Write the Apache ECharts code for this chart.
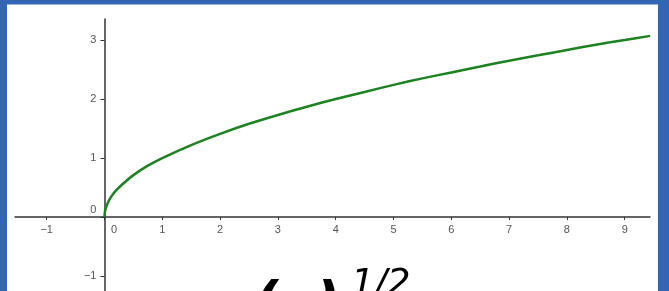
<!DOCTYPE html>
<html>
<head>
<meta charset="utf-8">
<script src="https://cdn.jsdelivr.net/npm/echarts@6/dist/echarts.min.js"></script>
<style>
  html, body { margin: 0; padding: 0; }
  body { width: 669px; height: 291px; background: #3366b2; position: relative; overflow: hidden; }
  #chart { position: absolute; left: 7px; top: 4px; width: 651px; height: 287px; background: #fff; border-top: 1px solid #9db4dc; box-sizing: border-box; }
</style>
</head>
<body>
<div id="chart"></div>
<script>
// tick labels on both axes
var xTicks = [-1, 0, 1, 2, 3, 4, 5, 6, 7, 8, 9]
var yTicks = [-1, 0, 1, 2, 3]

// points
var curveX = [0, 0.005, 0.02, 0.05, 0.1, 0.2, 0.35, 0.5, 0.75, 1, 1.5, 2, 2.5, 3, 3.5, 4, 4.5, 5, 5.5, 6, 6.5, 7, 7.5, 8, 8.5, 9, 9.44]
var curveY = [0, 0.07, 0.14, 0.22, 0.32, 0.45, 0.59, 0.71, 0.87, 1.0, 1.22, 1.41, 1.58, 1.73, 1.87, 2.0, 2.12, 2.24, 2.35, 2.45, 2.55, 2.65, 2.74, 2.83, 2.92, 3.0, 3.07]

var myChart = echarts.init(document.getElementById('chart'))

var minus = function (v) { return String(v).replace('-', '\u2212') }
var gridBox = { left: 8, right: 8, top: 14, bottom: 0 }

var option = {
    animation: false,
    grid: Object.assign({ outerBoundsMode: 'none' }, gridBox),
    xAxis: {
        type: 'value',
        min: -1.548,
        max: 9.437,
        axisLine: { onZero: false, lineStyle: { color: '#333', width: 1.5 } },
        axisTick: { customValues: xTicks, length: 3, lineStyle: { color: '#333' } },
        axisLabel: {
            customValues: xTicks,
            color: '#555', fontSize: 11, fontFamily: 'Liberation Sans',
            margin: 7,
            formatter: function (v) { return v === 0 ? '{z|0}' : minus(v) },
            rich: { z: { color: '#555', fontSize: 11, padding: [0, 0, 0, 19] } }
        },
        splitLine: { show: false }
    },
    yAxis: {
        type: 'value',
        min: -1.254,
        max: 3.356,
        axisLine: { onZero: false, lineStyle: { color: '#333', width: 1.5 } },
        axisTick: { customValues: yTicks, length: 4, lineStyle: { color: '#333' } },
        axisLabel: {
            customValues: yTicks,
            color: '#555', fontSize: 11, fontFamily: 'Liberation Sans',
            margin: 8,
            formatter: function (v) { return v === 0 ? '{z|0}' : minus(v) },
            rich: { z: { color: '#555', fontSize: 11, padding: [0, 0, 14, 0] } }
        },
        splitLine: { show: false }
    },
    graphic: [
        {
            type: 'text', left: 246, top: 273,
            style: { text: '(x)', fontSize: 56, fontStyle: 'italic', fontWeight: 'bold', fontFamily: 'DejaVu Sans', fill: '#000' }
        },
        {
            type: 'text', left: 344, top: 262,
            style: { text: '1/2', fontSize: 37, fontStyle: 'italic', fontFamily: 'DejaVu Sans', fill: '#000' }
        }
    ],
    series: [{
        type: 'line',
        data: curveX.map(function (x, i) { return [x, curveY[i]] }),
        showSymbol: false,
        smooth: 0.3,
        lineStyle: { color: '#1d8220', width: 2.5 }
    }]
}
myChart.setOption(option)

// move both axes onto the origin, labels included
var origin = myChart.convertToPixel({ gridIndex: 0 }, [0, 0])
var h = myChart.getHeight()
myChart.setOption({
    xAxis: { offset: -((h - gridBox.bottom) - origin[1]) },
    yAxis: { offset: -(origin[0] - gridBox.left) }
})
</script>
</body>
</html>
